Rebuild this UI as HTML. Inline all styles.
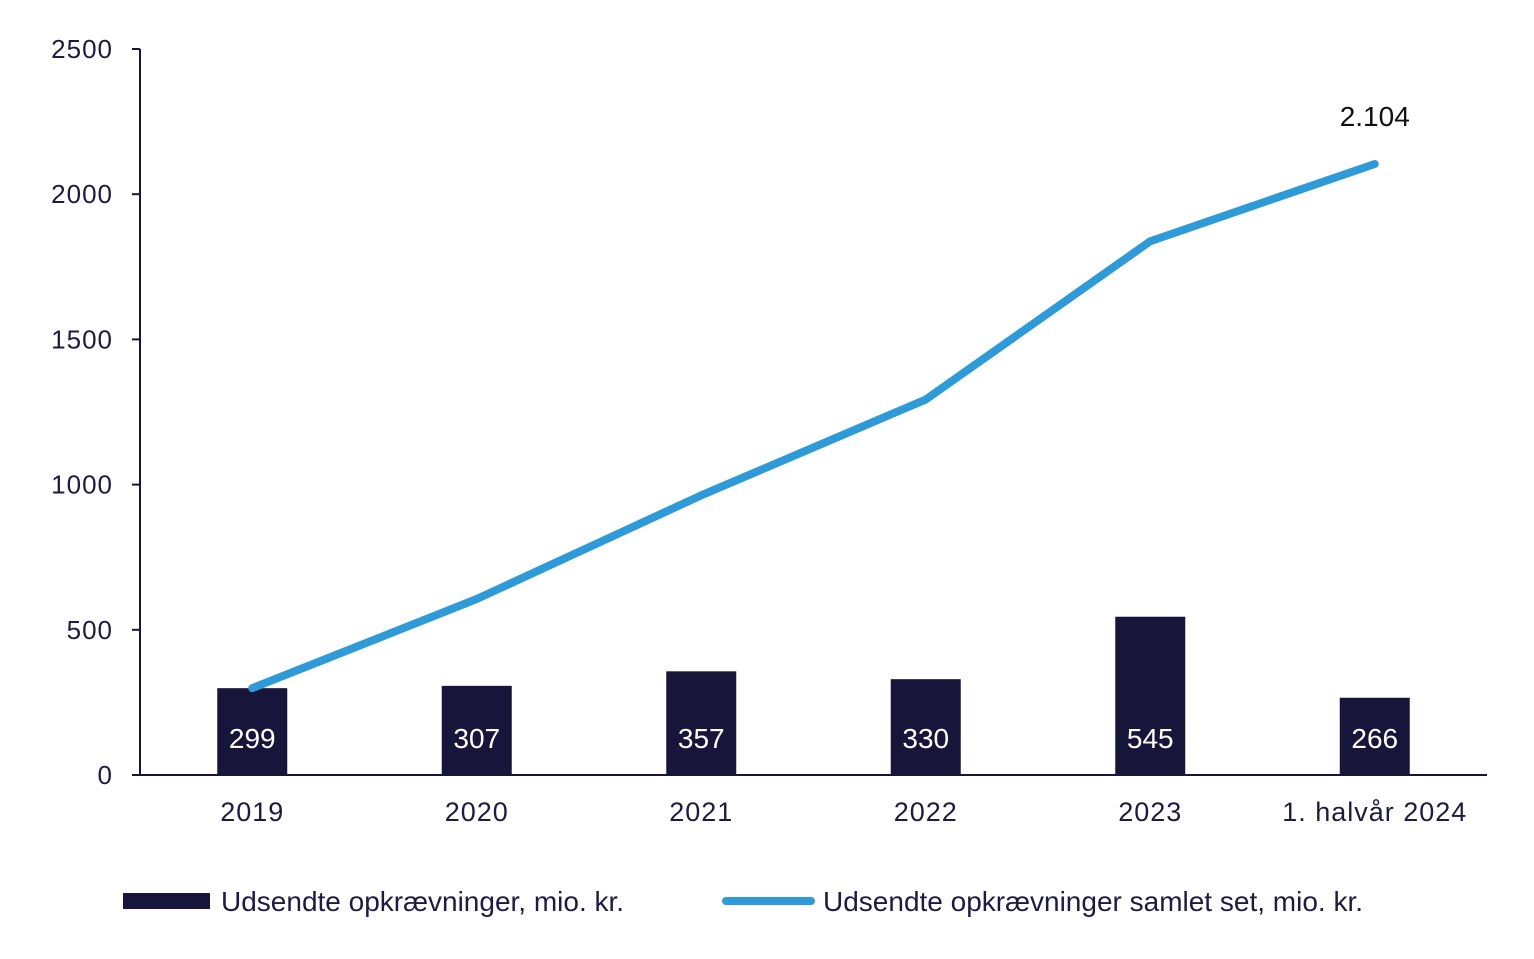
<!DOCTYPE html>
<html><head><meta charset="utf-8"><style>
html,body{margin:0;padding:0;background:#fff;}
svg{display:block;font-family:"Liberation Sans",sans-serif;}
</style></head><body>
<svg id="chart" width="1534" height="959" viewBox="0 0 1534 959" xmlns="http://www.w3.org/2000/svg"></svg>
<script>
const categories = ["2019","2020","2021","2022","2023","1. halvår 2024"];
const barValues = [299,307,357,330,545,266];
const lineValues = [299,606,963,1293,1838,2104];
const yTicks = [0,500,1000,1500,2000,2500];
const lastLabel = "2.104";

const NS="http://www.w3.org/2000/svg";
const svg=document.getElementById('chart');
const x0=140,x1=1487,y0=775,yTop=49,yMax=2500;
const band=(x1-x0)/categories.length;
const xC=i=>x0+band*(i+0.5);
const yS=v=>y0-(v/yMax)*(y0-yTop);
const navy="#17163a",blue="#2e9ad8",txt="#1c1b40";
function mk(tag,attrs,text){const e=document.createElementNS(NS,tag);for(const k in attrs)e.setAttribute(k,attrs[k]);if(text!==undefined)e.textContent=text;svg.appendChild(e);return e;}

let ax=mk('line',{x1:x0,y1:yTop,x2:x0,y2:y0,stroke:navy,'stroke-width':2});


yTicks.forEach(v=>{
  const t=mk('line',{x1:x0-8,y1:yS(v),x2:x0,y2:yS(v),stroke:navy,'stroke-width':2});
  
  
  const l=mk('text',{x:113,y:yS(v)+9,'text-anchor':'end','font-size':26,fill:txt,'letter-spacing':1},String(v));
  
  
});
barValues.forEach((v,i)=>{
  const r=mk('rect',{x:xC(i)-35,y:yS(v),width:70,height:y0-yS(v),fill:navy});
  
  
  const l=mk('text',{x:xC(i),y:748,'text-anchor':'middle','font-size':28,fill:'#fff'},String(v));
  
  
});
let xa=mk('line',{x1:x0,y1:y0,x2:x1,y2:y0,stroke:navy,'stroke-width':2});


categories.forEach((c,i)=>{
  const l=mk('text',{x:xC(i),y:821,'text-anchor':'middle','font-size':27,fill:txt,'letter-spacing':1},c);
  
  
});
const pts=lineValues.map((v,i)=>xC(i)+','+yS(v)).join(' ');
let pl=mk('polyline',{points:pts,fill:'none',stroke:blue,'stroke-width':8,'stroke-linecap':'round','stroke-linejoin':'round'});


const li=lineValues.length-1;
let ll=mk('text',{x:xC(li),y:yS(lineValues[li])-38,'text-anchor':'middle','font-size':28,fill:'#111'},lastLabel);



let lr=mk('rect',{x:123,y:893,width:87,height:16,fill:navy});


let lt1=mk('text',{x:221,y:911,'font-size':28,fill:txt},'Udsendte opkrævninger, mio. kr.');


let ln=mk('line',{x1:726,y1:901,x2:811,y2:901,stroke:blue,'stroke-width':8,'stroke-linecap':'round'});


let lt2=mk('text',{x:823,y:911,'font-size':28,fill:txt},'Udsendte opkrævninger samlet set, mio. kr.');


</script>
</body></html>
